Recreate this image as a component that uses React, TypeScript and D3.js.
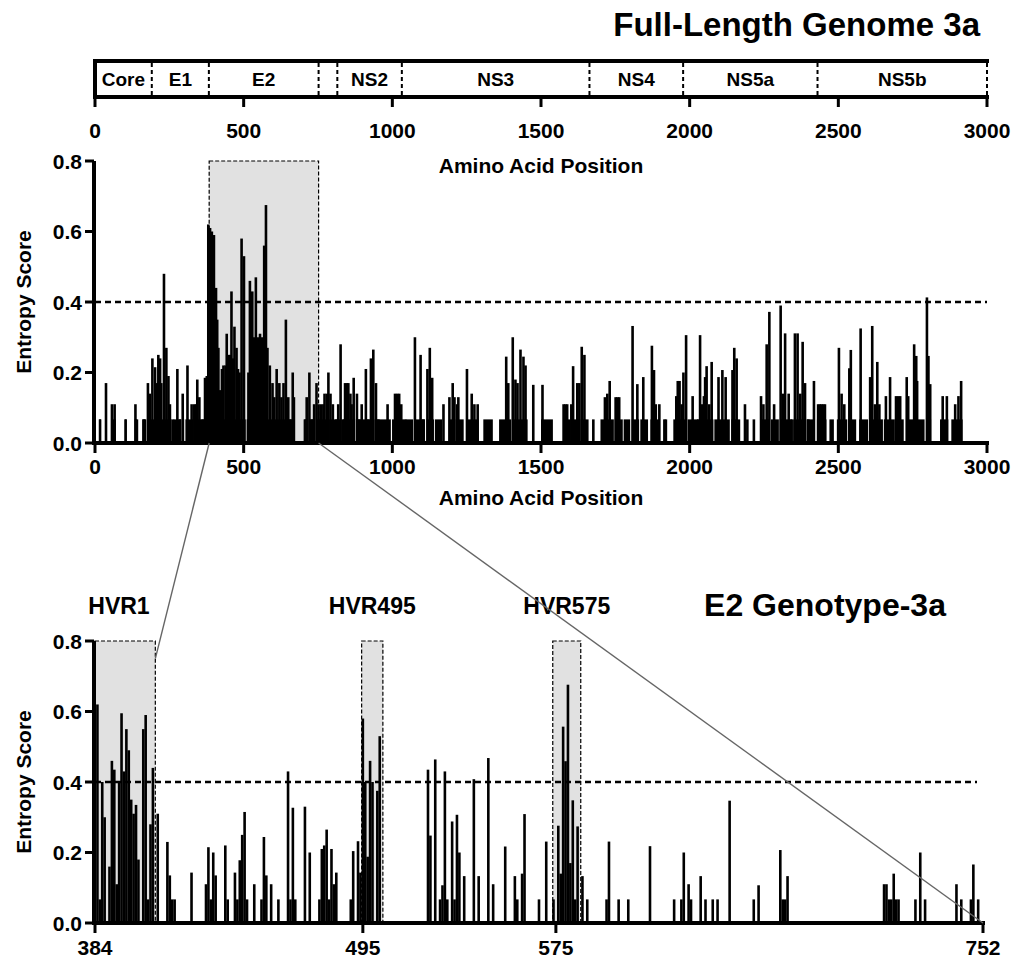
import React from "react";
import * as d3 from "d3";

// ---------- DATA ----------
const genomeRegions = ["Core", "E1", "E2", "", "NS2", "NS3", "NS4", "NS5a", "NS5b"];
const genomeBounds = [0, 191, 383, 752, 815, 1032, 1663, 1978, 2430, 3000];
const genomeTicks = [0, 500, 1000, 1500, 2000, 2500, 3000];
const entropyTicks = [0, 0.2, 0.4, 0.6, 0.8];
const threshold = 0.4;
const e2Range = [384, 752];
const e2Ticks = [384, 495, 575, 752];
const hvrNames = ["HVR1", "HVR495", "HVR575"];
const hvrRanges = [[384, 409], [494.5, 503.3], [573.7, 585.3]];

// full-length genome entropy peaks [position, entropy]
const genomePeaks: [number, number][] = [
  [17,0.067],[37,0.17],[57,0.11],[66,0.11],[103,0.067],[136,0.11],[141,0.067],[163,0.067],[168,0.067],
  [178,0.17],[184,0.14],[193,0.24],[202,0.215],[209,0.17],[213,0.25],[219,0.24],[223,0.17],[232,0.48],
  [240,0.27],[247,0.19],[252,0.11],[262,0.067],[277,0.21],[286,0.067],[295,0.14],[311,0.22],[325,0.11],
  [334,0.11],[340,0.11],[344,0.18],[351,0.13],[362,0.067],[370,0.185],[376,0.19],
  [381,0.62],[387,0.61],[393,0.6],[400,0.59],[407,0.44],[411,0.35],[415,0.27],[421,0.15],[427,0.21],
  [432,0.22],[439,0.22],[443,0.31],[449,0.25],[454,0.25],[459,0.43],[464,0.24],[469,0.33],[476,0.27],
  [481,0.21],[486,0.2],[493,0.58],[501,0.53],[516,0.2],[521,0.46],[529,0.43],[534,0.3],[541,0.47],
  [549,0.3],[555,0.31],[561,0.3],[567,0.25],[569,0.56],[575,0.675],[580,0.27],[588,0.22],[597,0.17],
  [603,0.13],[611,0.21],[620,0.17],[627,0.13],[634,0.17],[642,0.35],[650,0.13],[657,0.067],[665,0.2],
  [669,0.13],[706,0.067],[712,0.13],[721,0.2],[729,0.067],[737,0.11],[745,0.17],
  [752,0.11],[760,0.11],[768,0.11],[772,0.14],[780,0.14],[785,0.2],[792,0.14],[800,0.11],[812,0.067],
  [818,0.11],[826,0.28],[835,0.067],[841,0.17],[847,0.17],[852,0.17],[859,0.14],[863,0.11],[870,0.185],
  [881,0.14],[889,0.067],[897,0.11],[911,0.21],[919,0.067],[928,0.24],[936,0.265],[945,0.17],[953,0.067],
  [984,0.11],[1009,0.14],[1016,0.14],[1023,0.14],[1030,0.11],[1043,0.067],[1076,0.3],[1095,0.25],
  [1104,0.067],[1118,0.21],[1126,0.27],[1134,0.185],[1172,0.11],[1192,0.13],[1203,0.17],[1209,0.13],
  [1218,0.11],[1222,0.13],[1251,0.21],[1267,0.14],[1276,0.11],[1287,0.11],[1383,0.245],[1390,0.17],
  [1405,0.3],[1414,0.18],[1421,0.17],[1431,0.265],[1441,0.245],[1448,0.22],[1474,0.165],[1505,0.165],
  [1576,0.11],[1582,0.11],[1588,0.11],[1602,0.11],[1608,0.218],[1622,0.17],[1629,0.17],[1637,0.273],
  [1646,0.25],[1676,0.067],[1715,0.13],[1723,0.14],[1731,0.176],[1751,0.13],[1757,0.13],[1763,0.13],
  [1808,0.332],[1824,0.167],[1844,0.187],[1873,0.276],[1880,0.207],[1886,0.11],[1898,0.11],[1915,0.067],
  [1920,0.067],[1955,0.133],[1960,0.176],[1966,0.176],[1973,0.11],[1979,0.2],[1988,0.306],[2010,0.133],
  [2029,0.067],[2035,0.306],[2041,0.11],[2048,0.133],[2052,0.187],[2057,0.218],[2066,0.11],[2074,0.23],
  [2097,0.187],[2110,0.207],[2121,0.187],[2144,0.207],[2150,0.27],[2158,0.24],[2186,0.11],[2194,0.067],
  [2216,0.067],[2240,0.133],[2248,0.11],[2259,0.28],[2268,0.372],[2284,0.11],[2306,0.39],[2313,0.14],
  [2321,0.311],[2333,0.14],[2343,0.067],[2354,0.311],[2363,0.311],[2372,0.14],[2380,0.287],[2388,0.17],
  [2399,0.067],[2418,0.176],[2432,0.11],[2438,0.11],[2443,0.11],[2449,0.11],[2455,0.11],[2502,0.27],
  [2511,0.14],[2520,0.11],[2537,0.212],[2542,0.264],[2575,0.325],[2607,0.187],[2614,0.332],[2623,0.11],
  [2631,0.23],[2638,0.11],[2660,0.133],[2674,0.187],[2694,0.133],[2701,0.133],[2708,0.133],[2730,0.187],
  [2735,0.133],[2755,0.28],[2762,0.247],[2765,0.176],[2798,0.413],[2803,0.247],[2809,0.167],[2851,0.133],
  [2865,0.133],[2893,0.11],[2904,0.133],[2913,0.176],
];

// stretches where every position has the minimum non-zero entropy
const baseLevel = 0.067;
const genomeBaseRuns: [number, number][] = [
  [14,20],[55,70],[100,106],[133,142],[160,170],[176,230],[234,258],[264,290],[293,300],[304,330],
  [333,372],[378,507],[510,560],[563,672],[704,716],[719,740],[745,790],[793,830],[833,875],[878,940],
  [943,995],[999,1040],[1044,1070],[1074,1110],[1115,1140],[1143,1168],[1190,1212],[1216,1240],
  [1250,1290],[1306,1338],[1359,1400],[1403,1455],[1500,1540],[1575,1600],[1602,1630],[1633,1660],
  [1700,1745],[1748,1775],[1778,1800],[1805,1830],[1834,1860],[1868,1900],[1945,1990],[1993,2030],
  [2033,2080],[2083,2135],[2140,2170],[2238,2270],[2273,2300],[2303,2345],[2348,2390],[2393,2420],
  [2428,2460],[2470,2485],[2495,2530],[2533,2560],[2570,2600],[2605,2650],[2653,2690],[2693,2720],
  [2728,2760],[2763,2790],[2795,2812],[2842,2870],[2880,2918],
];

// E2 entropy [position, entropy]
const e2Entropy: [number, number][] = [
  [385,0.62],[386,0.067],[387,0.40],[388,0.30],[390,0.16],[391,0.46],[392,0.435],[393,0.11],[394,0.40],
  [395,0.595],[396,0.43],[397,0.55],[398,0.49],[399,0.35],[400,0.31],[401,0.335],[402,0.18],[404,0.55],
  [405,0.59],[406,0.067],[407,0.28],[408,0.44],[410,0.31],[414,0.23],[415,0.135],[416,0.067],[417,0.067],
  [424,0.143],[430,0.11],[431,0.215],[432,0.067],[433,0.2],[434,0.135],[438,0.22],[439,0.067],[442,0.143],
  [443,0.067],[444,0.178],[445,0.25],[446,0.315],[447,0.067],[450,0.11],[453,0.067],[454,0.244],
  [455,0.135],[457,0.11],[460,0.067],[464,0.43],[465,0.067],[466,0.327],[467,0.067],[471,0.33],[473,0.2],
  [477,0.067],[478,0.21],[479,0.22],[480,0.265],[481,0.067],[482,0.21],[483,0.11],[484,0.143],[490,0.067],
  [491,0.204],[493,0.232],[494,0.143],[495,0.58],[496,0.40],[497,0.188],[498,0.46],[499,0.40],[501,0.375],
  [502,0.53],[522,0.435],[523,0.248],[525,0.464],[527,0.067],[528,0.107],[529,0.43],[530,0.067],
  [532,0.288],[533,0.067],[534,0.307],[535,0.2],[537,0.133],[541,0.408],[543,0.133],[547,0.468],
  [549,0.11],[554,0.217],[558,0.133],[559,0.067],[561,0.14],[562,0.309],[568,0.067],[571,0.231],
  [574,0.067],[576,0.276],[577,0.14],[578,0.557],[579,0.459],[580,0.676],[581,0.17],[582,0.348],
  [583,0.067],[584,0.274],[586,0.133],[588,0.067],[596,0.067],[597,0.231],[601,0.067],[605,0.067],
  [614,0.218],[624,0.067],[627,0.067],[628,0.2],[630,0.11],[631,0.067],[635,0.133],[637,0.067],
  [640,0.067],[642,0.067],[647,0.347],[657,0.067],[659,0.107],[668,0.207],[669,0.067],[670,0.067],
  [671,0.133],[711,0.11],[712,0.11],[713,0.067],[714,0.067],[715,0.14],[716,0.067],[717,0.067],
  [724,0.067],[726,0.2],[728,0.067],[741,0.11],[743,0.067],[747,0.067],[748,0.166],[750,0.067],
];

// ---------- LAYOUT ----------
const FONT = "'Liberation Sans', Arial, Helvetica, sans-serif";
const xG = d3.scaleLinear().domain([0, 3000]).range([95, 987]);
const yT = d3.scaleLinear().domain([0, 0.8]).range([443, 161]);
const xB = d3.scaleLinear().domain(e2Range).range([95, 983]);
const yB = d3.scaleLinear().domain([0, 0.8]).range([923, 641]);
const fmt = d3.format(".1f");

function YAxis({ y, x, label, cy }: { y: d3.ScaleLinear<number, number>; x: number; label: string; cy: number }) {
  return (
    <g>
      <line x1={x} x2={x} y1={y(0.8)} y2={y(0) + 2} stroke="#000" strokeWidth={4} />
      {entropyTicks.map((t) => (
        <g key={t}>
          <line x1={x - 9} x2={x} y1={y(t)} y2={y(t)} stroke="#000" strokeWidth={3} />
          <text x={x - 12} y={y(t)} dy="0.36em" textAnchor="end" fontSize={21} fontWeight="bold" fontFamily={FONT}>
            {fmt(t)}
          </text>
        </g>
      ))}
      <text transform={`translate(31,${cy}) rotate(-90)`} textAnchor="middle" fontSize={21} fontWeight="bold" fontFamily={FONT}>
        {label}
      </text>
    </g>
  );
}

export default function App() {
  const topBase = yT(0);
  const botBase = yB(0);
  return (
    <svg width={1014} height={961} style={{ position: "absolute", left: 0, top: 0, background: "#fff" }}>
      <rect width={1014} height={961} fill="#fff" />
      {/* Title */}
      <text x={980} y={36} textAnchor="end" fontSize={33} fontWeight="bold" fontFamily={FONT}>
        Full-Length Genome 3a
      </text>

      {/* Genome map */}
      <line x1={xG(0) - 2} x2={xG(3000) + 2} y1={61} y2={61} stroke="#000" strokeWidth={4} />
      <line x1={xG(0)} x2={xG(0)} y1={59} y2={99} stroke="#000" strokeWidth={4} />
      {genomeBounds.slice(1).map((b) => (
        <line key={b} x1={xG(b)} x2={xG(b)} y1={63} y2={95} stroke="#000" strokeWidth={2} strokeDasharray="4,3" />
      ))}
      {genomeRegions.map((r, i) =>
        r ? (
          <text key={r} x={(xG(genomeBounds[i]) + xG(genomeBounds[i + 1])) / 2} y={86} textAnchor="middle"
            fontSize={19} fontWeight="bold" fontFamily={FONT}>
            {r}
          </text>
        ) : null
      )}
      <line x1={xG(0) - 2} x2={xG(3000) + 2} y1={97} y2={97} stroke="#000" strokeWidth={4} />
      {genomeTicks.map((t) => (
        <g key={t}>
          <line x1={xG(t)} x2={xG(t)} y1={97} y2={107} stroke="#000" strokeWidth={3} />
          <text x={xG(t)} y={138} textAnchor="middle" fontSize={21} fontWeight="bold" fontFamily={FONT}>{t}</text>
        </g>
      ))}
      <text x={541} y={173} textAnchor="middle" fontSize={21} fontWeight="bold" fontFamily={FONT}>Amino Acid Position</text>

      {/* Top entropy chart */}
      <rect x={xG(e2Range[0])} y={yT(0.8)} width={xG(e2Range[1]) - xG(e2Range[0])} height={topBase - yT(0.8)} fill="#e1e1e1" />
      {genomeBaseRuns.map(([s, e]) => (
        <rect key={"b" + s} x={xG(s)} width={xG(e) - xG(s)} y={yT(baseLevel)} height={topBase - yT(baseLevel)} fill="#000" />
      ))}
      {genomePeaks.map(([p, v]) => (
        <rect key={"p" + p} x={xG(p) - 1.3} width={2.6} y={yT(v)} height={topBase - yT(v)} fill="#000" />
      ))}
      <rect x={xG(e2Range[0])} y={yT(0.8)} width={xG(e2Range[1]) - xG(e2Range[0])} height={topBase - yT(0.8)} fill="none" stroke="#000" strokeWidth={1.2} strokeDasharray="4,2" />
      <line x1={xG(0)} x2={xG(3000)} y1={yT(threshold)} y2={yT(threshold)} stroke="#000" strokeWidth={2.5} strokeDasharray="6,4" />
      <line x1={xG(0) - 2} x2={xG(3000) + 2} y1={topBase} y2={topBase} stroke="#000" strokeWidth={4} />
      {genomeTicks.map((t) => (
        <g key={t}>
          <line x1={xG(t)} x2={xG(t)} y1={topBase} y2={topBase + 10} stroke="#000" strokeWidth={3} />
          <text x={xG(t)} y={474} textAnchor="middle" fontSize={21} fontWeight="bold" fontFamily={FONT}>{t}</text>
        </g>
      ))}
      <YAxis y={yT} x={94} label="Entropy Score" cy={302} />
      <text x={541} y={505} textAnchor="middle" fontSize={21} fontWeight="bold" fontFamily={FONT}>Amino Acid Position</text>

      {/* E2 chart */}
      <text x={825} y={616} textAnchor="middle" fontSize={32} fontWeight="bold" fontFamily={FONT}>E2 Genotype-3a</text>
      {hvrRanges.map(([s, e], i) => (
        <g key={hvrNames[i]}>
          <rect x={xB(s)} y={yB(0.8)} width={xB(e) - xB(s)} height={botBase - yB(0.8)} fill="#e1e1e1" />
          <text x={i === 0 ? 119 : (xB(s) + xB(e)) / 2} y={614} textAnchor="middle" fontSize={23} fontWeight="bold" fontFamily={FONT}>
            {hvrNames[i]}
          </text>
        </g>
      ))}
      {e2Entropy.map(([p, v]) => (
        <rect key={"e" + p} x={xB(p) - 1.3} width={2.6} y={yB(v)} height={botBase - yB(v)} fill="#000" />
      ))}
      {hvrRanges.map(([s, e], i) => (
        <rect key={"o" + i} x={xB(s)} y={yB(0.8)} width={xB(e) - xB(s)} height={botBase - yB(0.8)} fill="none" stroke="#000" strokeWidth={1.2} strokeDasharray="4,2" />
      ))}
      <line x1={xB(e2Range[0])} x2={xB(e2Range[1]) - 6} y1={yB(threshold)} y2={yB(threshold)} stroke="#000" strokeWidth={2.5} strokeDasharray="6,4" />
      <line x1={xB(e2Range[0]) - 2} x2={xB(e2Range[1]) + 2} y1={botBase} y2={botBase} stroke="#000" strokeWidth={4} />
      {e2Ticks.map((t) => (
        <g key={t}>
          <line x1={xB(t)} x2={xB(t)} y1={botBase} y2={botBase + 10} stroke="#000" strokeWidth={3} />
          <text x={xB(t)} y={955} textAnchor="middle" fontSize={21} fontWeight="bold" fontFamily={FONT}>{t}</text>
        </g>
      ))}
      <YAxis y={yB} x={94} label="Entropy Score" cy={782} />

      {/* zoom connector lines */}
      <line x1={xG(e2Range[0])} y1={topBase} x2={xB(409)} y2={yB(0.75)} stroke="#666" strokeWidth={1.4} />
      <line x1={xG(e2Range[1])} y1={topBase} x2={xB(e2Range[1])} y2={botBase} stroke="#666" strokeWidth={1.4} />
    </svg>
  );
}
